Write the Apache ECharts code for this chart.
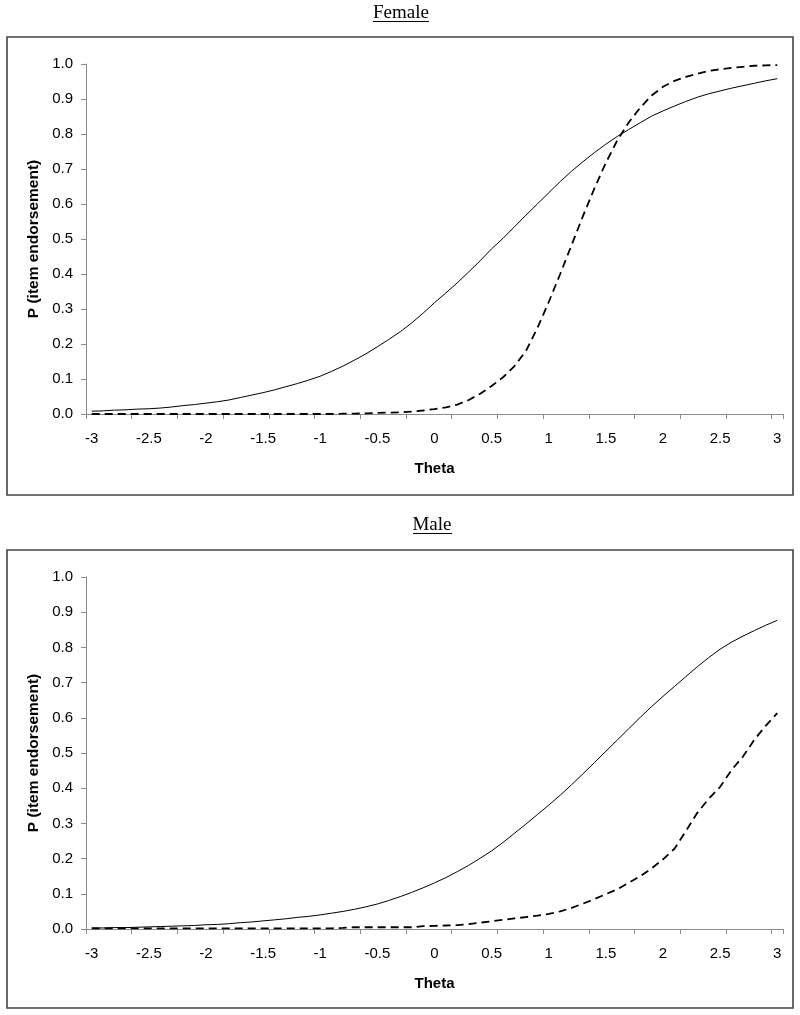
<!DOCTYPE html>
<html>
<head>
<meta charset="utf-8">
<script src="https://cdn.jsdelivr.net/npm/echarts@6/dist/echarts.min.js"></script>
<style>
html,body{margin:0;padding:0;background:#fff;}
#c{width:800px;height:1015px;}
</style>
</head>
<body>
<div id="c"></div>
<script>
// Theta categories (-3 to 3 by 0.1)
const theta = ["-3","-2.9","-2.8","-2.7","-2.6","-2.5","-2.4","-2.3","-2.2","-2.1",
  "-2","-1.9","-1.8","-1.7","-1.6","-1.5","-1.4","-1.3","-1.2","-1.1",
  "-1","-0.9","-0.8","-0.7","-0.6","-0.5","-0.4","-0.3","-0.2","-0.1",
  "0","0.1","0.2","0.3","0.4","0.5","0.6","0.7","0.8","0.9",
  "1","1.1","1.2","1.3","1.4","1.5","1.6","1.7","1.8","1.9",
  "2","2.1","2.2","2.3","2.4","2.5","2.6","2.7","2.8","2.9","3"];

const yTicks = [0,0.1,0.2,0.3,0.4,0.5,0.6,0.7,0.8,0.9,1.0];

// Female panel
const femaleSolid = [0.008,0.009,0.011,0.012,0.014,0.015,0.017,0.020,0.024,0.027,
  0.031,0.035,0.040,0.047,0.054,0.061,0.069,0.078,0.087,0.097,
  0.108,0.122,0.137,0.154,0.172,0.192,0.213,0.235,0.260,0.288,
  0.318,0.346,0.375,0.406,0.438,0.472,0.502,0.535,0.568,0.600,
  0.632,0.664,0.694,0.721,0.747,0.771,0.793,0.813,0.832,0.851,
  0.866,0.880,0.893,0.905,0.915,0.923,0.931,0.938,0.945,0.952,0.958];
const femaleDashed = [0.000,0.000,0.000,0.000,0.000,0.000,0.000,0.000,0.000,0.000,
  0.000,0.000,0.000,0.000,0.000,0.000,0.000,0.000,0.000,0.000,
  0.000,0.000,0.001,0.001,0.002,0.003,0.004,0.005,0.007,0.010,
  0.014,0.019,0.027,0.040,0.058,0.080,0.105,0.137,0.180,0.245,
  0.320,0.400,0.483,0.566,0.645,0.718,0.782,0.833,0.875,0.910,
  0.935,0.952,0.963,0.972,0.980,0.985,0.989,0.992,0.995,0.996,0.997];

// Male panel
const maleSolid = [0.003,0.003,0.004,0.004,0.005,0.006,0.007,0.008,0.009,0.010,
  0.012,0.013,0.015,0.018,0.020,0.023,0.026,0.029,0.033,0.036,
  0.040,0.045,0.050,0.056,0.063,0.071,0.081,0.092,0.104,0.117,
  0.131,0.146,0.163,0.181,0.201,0.222,0.246,0.272,0.298,0.325,
  0.352,0.380,0.410,0.441,0.473,0.505,0.537,0.569,0.601,0.632,
  0.661,0.689,0.717,0.745,0.771,0.795,0.815,0.832,0.848,0.863,0.877];
const maleDashed = [0.002,0.002,0.002,0.002,0.002,0.002,0.002,0.002,0.002,0.002,
  0.002,0.002,0.002,0.002,0.002,0.002,0.002,0.002,0.002,0.002,
  0.002,0.002,0.003,0.005,0.005,0.005,0.005,0.005,0.005,0.008,
  0.009,0.010,0.011,0.014,0.018,0.022,0.026,0.030,0.034,0.038,
  0.043,0.050,0.060,0.072,0.085,0.099,0.113,0.131,0.150,0.172,
  0.198,0.228,0.278,0.330,0.370,0.404,0.452,0.490,0.538,0.578,0.613];

const panelTitles = ["Female", "Male"];
const xName = "Theta";
const yName = "P (item endorsement)";

const sans = "'Liberation Sans', Arial, sans-serif";
const serif = "'Liberation Serif', 'Times New Roman', serif";
const axisGray = '#8c8c8c';

function xAxisFor(gi) {
  return {
    type: 'category', gridIndex: gi, data: theta, boundaryGap: true,
    name: xName, nameLocation: 'middle', nameGap: 47,
    nameTextStyle: {fontFamily: sans, fontSize: 15, fontWeight: 'bold', color: '#000'},
    axisLine: {show: true, lineStyle: {color: axisGray, width: 1}},
    axisTick: {show: true, interval: 3, length: 5, alignWithLabel: false, lineStyle: {color: axisGray}},
    axisLabel: {interval: 4, margin: 17, fontFamily: sans, fontSize: 15, color: '#000'},
    splitLine: {show: false}
  };
}
function yAxisFor(gi) {
  return {
    type: 'value', gridIndex: gi, min: yTicks[0], max: yTicks[yTicks.length-1], interval: 0.1,
    name: yName, nameLocation: 'middle', nameGap: 42,
    nameTextStyle: {fontFamily: sans, fontSize: 15.5, fontWeight: 'bold', color: '#000'},
    axisLine: {show: true, lineStyle: {color: axisGray, width: 1}},
    axisTick: {show: true, length: 5, lineStyle: {color: axisGray}},
    axisLabel: {margin: 13, fontFamily: sans, fontSize: 15, color: '#000',
      formatter: v => v.toFixed(1)},
    splitLine: {show: false}
  };
}
function solid(gi, data) {
  return {type: 'line', xAxisIndex: gi, yAxisIndex: gi, data: data, showSymbol: false,
    symbol: 'none', lineStyle: {color: '#000', width: 1}, silent: true};
}
function dashed(gi, data) {
  return {type: 'line', xAxisIndex: gi, yAxisIndex: gi, data: data, showSymbol: false,
    symbol: 'none', lineStyle: {color: '#000', width: 1.8, type: [8, 5]}, silent: true};
}

const chart = echarts.init(document.getElementById('c'), null, {renderer: 'canvas'});
const option = {
  animation: false,
  backgroundColor: '#fff',
  grid: [
    {left: 86, right: 17, top: 64, height: 350},
    {left: 86, right: 17, top: 577, height: 352}
  ],
  xAxis: [xAxisFor(0), xAxisFor(1)],
  yAxis: [yAxisFor(0), yAxisFor(1)],
  series: [
    solid(0, femaleSolid), dashed(0, femaleDashed),
    solid(1, maleSolid), dashed(1, maleDashed)
  ],
  graphic: [
    {type: 'rect', shape: {x: 7, y: 37, width: 786, height: 458},
      style: {fill: null, stroke: '#444', lineWidth: 1.6}},
    {type: 'rect', shape: {x: 7, y: 550, width: 786, height: 458},
      style: {fill: null, stroke: '#444', lineWidth: 1.6}},
    {type: 'text', x: 401, y: 13,
      style: {text: panelTitles[0], font: '19px ' + serif, fill: '#000', align: 'center', verticalAlign: 'middle'}},
    {type: 'line', shape: {x1: 373, y1: 21.5, x2: 429, y2: 21.5}, style: {stroke: '#000', lineWidth: 1}},
    {type: 'text', x: 432, y: 525,
      style: {text: panelTitles[1], font: '19px ' + serif, fill: '#000', align: 'center', verticalAlign: 'middle'}},
    {type: 'line', shape: {x1: 413, y1: 533.5, x2: 452, y2: 533.5}, style: {stroke: '#000', lineWidth: 1}}
  ]
};
chart.setOption(option);
</script>
</body>
</html>
